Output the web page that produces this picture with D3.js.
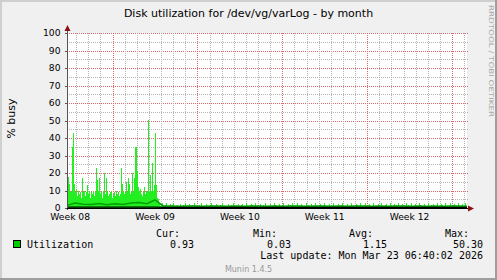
<!DOCTYPE html>
<html><head><meta charset="utf-8">
<script src="https://cdn.jsdelivr.net/npm/d3@7"></script>
<style>body{margin:0;background:#f0f0f0}svg{display:block}</style>
</head><body><svg id="c" width="497" height="280"></svg>
<script>
const titleText = "Disk utilization for /dev/vg/varLog - by month";
const yLabelText = "% busy";
const yTickValues = [0,10,20,30,40,50,60,70,80,90,100];
const weekLabels = ["Week 08","Week 09","Week 10","Week 11","Week 12"];
const weekStarts = ["2026-02-16","2026-02-23","2026-03-02","2026-03-09","2026-03-16"];
const endTime = "2026-03-24T05:42:00Z";
const spanDays = 33;
// per-pixel-column maximum % busy, first part (dense activity)
const maxDense = [6,18,14,10,9,35,43,14,9,11,7,10,8,9,6,17,9,10,7,9,
  13,8,10,6,9,8,10,7,9,23,16,10,17,8,9,6,10,20,8,17,
  9,7,8,9,10,6,8,9,7,10,8,9,7,8,23,14,9,8,10,15,
  9,17,14,8,10,20,9,17,35,35,21,12,10,11,8,7,9,12,8,10,
  9,50.3,9,19,10,26,10,13,43,13,6,5];
// per-pixel-column maximum % busy, quiet part
const maxTail = [2.1,1.4,1.2,2.6,1.3,1.1,1.5,2.9,1.2,1.4,1.3,2.2,1.1,1.6,2.7,1.2,1.3,1.1,1.8,1.4,
  1.2,2.4,1.3,1.1,1.5,1.2,3.0,1.4,1.2,1.3,2.5,1.1,1.2,1.6,1.3,2.8,1.2,1.1,1.4,1.3,
  1.5,1.2,2.6,1.3,1.1,1.2,1.4,2.2,1.3,1.2,1.1,1.5,2.9,1.2,1.3,1.4,1.1,2.3,1.2,1.3,
  1.1,1.6,1.2,2.7,1.3,1.2,1.4,1.1,1.3,2.5,1.2,1.1,1.5,1.3,2.8,1.2,1.4,1.1,1.2,2.1,
  1.3,1.2,1.5,2.4,1.1,1.3,1.2,2.9,1.4,1.2,1.1,1.3,2.2,1.5,1.2,1.1,2.6,1.3,1.2,1.4,
  1.1,2.3,1.2,1.3,1.6,1.2,2.8,1.1,1.3,1.2,1.4,2.5,1.2,1.1,1.3,2.7,1.5,1.2,1.1,1.3,
  2.4,1.2,1.3,1.1,2.9,1.4,1.2,1.3,1.1,2.2,1.2,1.5,1.3,2.6,1.1,1.2,1.4,1.3,2.8,1.2,
  1.1,1.3,2.3,1.2,1.4,1.1,1.2,2.7,1.3,1.5,1.2,1.1,2.5,1.3,1.2,1.4,2.9,1.1,1.2,1.3,
  1.6,2.2,1.2,1.1,1.3,2.6,1.4,1.2,1.1,1.3,2.4,1.2,1.5,1.1,2.8,1.3,1.2,1.4,1.1,2.3,
  1.2,1.3,1.5,2.7,1.1,1.2,1.3,1.4,2.5,1.2,1.1,1.3,2.9,1.2,1.4,1.1,1.3,2.2,1.5,1.2,
  1.1,2.6,1.3,1.2,1.4,1.1,2.8,1.2,1.3,1.5,2.4,1.1,1.2,1.3,2.7,1.4,1.2,1.1,1.3,2.3,
  1.2,1.4,2.9,1.1,1.3,1.2,1.5,2.5,1.2,1.1,1.3,2.6,1.4,1.2,1.1,2.2,1.3,1.5,1.2,2.8,
  1.1,1.3,1.2,2.4,1.4,1.1,1.2,2.7,1.3,1.5,1.2,1.1,2.9,1.3,1.2,1.4,2.3,1.1,1.2,1.3,
  2.6,1.5,1.2,1.1,1.3,2.5,1.2,1.4,1.1,2.8,1.3,1.2,1.5,1.1,2.2,1.3,1.2,1.4,2.7,1.1,
  1.2,1.3,2.4,1.5,1.1,1.2,2.9,1.3,1.4,1.2,1.1,2.6,1.3,1.2,1.5,2.3,1.1,1.3,1.2,2.8,
  1.4,1.2,1.1,2.5,1.3,1.2,2.7,1.0];
// average % busy, sampled every 8 columns
const avgValues = [1.5,2.8,2.2,2.0,2.6,1.8,2.4,2.0,2.8,3.2,2.5,4.6,1.2,
  1.1,1.0,1.2,1.1,1.0,1.1,1.2,1.0,1.1,1.0,1.2,1.1,1.0,1.1,1.0,1.2,1.1,1.0,1.1,1.2,
  1.0,1.1,1.0,1.1,1.2,1.0,1.1,1.0,1.1,1.2,1.0,1.1,1.0,1.1,1.0,1.2,1.1,1.0];
// minimum % busy, sampled every 8 columns
const minValues = [0.5,0.5,0.5,0.5,0.5,0.5,0.5,0.5,0.5,0.5,0.5,0.5,0.4,
  0.4,0.4,0.4,0.4,0.4,0.4,0.4,0.4,0.4,0.4,0.4,0.4,0.4,0.4,0.4,0.4,0.4,0.4,0.4,0.4,
  0.4,0.4,0.4,0.4,0.4,0.4,0.4,0.4,0.4,0.4,0.4,0.4,0.4,0.4,0.4,0.4,0.4,0.4];
const seriesName = "Utilization";
const legendHeaders = ["Cur:","Min:","Avg:","Max:"];
const legendValues = ["0.93","0.03","1.15","50.30"];
const lastUpdate = "Last update: Mon Mar 23 06:40:02 2026";
const footer = "Munin 1.4.5";
const watermark = "RRDTOOL / TOBI OETIKER";

const svg = d3.select("#c");
const W = 497, H = 280;
const L = 67, R = 467, T = 33, B = 208;
const end = new Date(endTime);
const start = d3.utcDay.offset(end, -spanDays);
const x = d3.scaleUtc().domain([start, end]).range([L, R]);
const y = d3.scaleLinear().domain([0, 100]).range([B, T]);
const px = v => Math.round(v) + 0.5;

// frame
svg.append("rect").attr("width", W).attr("height", H).attr("fill", "#f0f0f0");
svg.append("path").attr("d", `M0,${H}V0H${W}`).attr("stroke", "#cfcfcf").attr("stroke-width", 4).attr("fill", "none");
svg.append("path").attr("d", `M0,${H}H${W}V0`).attr("stroke", "#9e9e9e").attr("stroke-width", 4).attr("fill", "none");

// plot background
svg.append("rect").attr("x", L).attr("y", T).attr("width", R - L).attr("height", B - T).attr("fill", "#fff");

const grid = svg.append("g").attr("shape-rendering", "crispEdges").attr("fill", "none");
// horizontal grid
d3.range(5, 101, 5).forEach(v => {
  const major = v % 10 === 0;
  grid.append("line").attr("x1", L).attr("x2", R + 1).attr("y1", px(y(v))).attr("y2", px(y(v)))
    .attr("stroke", major ? "#e06868" : "#b4b4b4").attr("stroke-dasharray", "1,1");
});
// vertical grid: days minor, week starts major
const weekStartDates = weekStarts.map(s => new Date(s + "T00:00:00Z"));
d3.utcDay.range(d3.utcDay.ceil(start), end).forEach(d => {
  const major = d.getUTCDay() === 1;
  grid.append("line").attr("x1", px(x(d))).attr("x2", px(x(d))).attr("y1", T).attr("y2", B)
    .attr("stroke", major ? "#e06868" : "#b4b4b4").attr("stroke-dasharray", "1,1");
});

// data
const step = (end - start) / 400;
const maxValues = maxDense.concat(maxTail);
const colDate = i => new Date(+start + i * step);
svg.append("g").attr("shape-rendering", "crispEdges").selectAll("rect").data(maxValues).join("rect")
  .attr("x", (d, i) => Math.round(x(colDate(i))))
  .attr("width", 1)
  .attr("y", d => y(d))
  .attr("height", d => B - y(d))
  .attr("fill", "#22ee22");

const sampleDate = i => new Date(+start + i * 8 * step);
svg.append("path").datum(avgValues)
  .attr("d", d3.line().x((d, i) => x(sampleDate(i))).y(d => y(d)))
  .attr("fill", "none").attr("stroke", "#00a000").attr("stroke-width", 1.5);
svg.append("path").datum(minValues)
  .attr("d", d3.line().x((d, i) => x(sampleDate(i))).y(d => y(d)))
  .attr("fill", "none").attr("stroke", "#000").attr("stroke-width", 1.2);

// axes
const ax = svg.append("g").attr("shape-rendering", "crispEdges");
ax.append("line").attr("x1", L + 0.5).attr("x2", L + 0.5).attr("y1", B + 2).attr("y2", T - 3).attr("stroke", "#555");
ax.append("line").attr("x1", L - 2).attr("x2", R + 2).attr("y1", B + 0.5).attr("y2", B + 0.5).attr("stroke", "#000");
yTickValues.forEach(v => {
  ax.append("line").attr("x1", L - 2).attr("x2", L).attr("y1", px(y(v))).attr("y2", px(y(v))).attr("stroke", "#555");
});
svg.append("path").attr("d", `M${L - 2.5},${T - 2}L${L + 3.5},${T - 2}L${L + 0.5},${T - 8}Z`).attr("fill", "#8b1010");
svg.append("path").attr("d", `M${R + 1},${B - 2.5}L${R + 1},${B + 3.5}L${R + 7},${B + 0.5}Z`).attr("fill", "#8b1010");

const sans = "'DejaVu Sans', sans-serif";
const mono = "'DejaVu Sans Mono', monospace";
// y tick labels
svg.append("g").selectAll("text").data(yTickValues).join("text")
  .attr("x", L - 6.5).attr("y", d => y(d) + 3.4)
  .attr("text-anchor", "end").attr("font-family", sans).attr("font-size", 9.2).attr("fill", "#000")
  .text(d => d);
// x labels (centered in each week)
svg.append("g").selectAll("text").data(weekLabels).join("text")
  .attr("x", (d, i) => x(d3.utcHour.offset(weekStartDates[i], 84)))
  .attr("y", 220).attr("text-anchor", "middle").attr("font-family", sans).attr("font-size", 9.2).attr("fill", "#000")
  .text(d => d);

// title
svg.append("text").attr("x", 248.5).attr("y", 17).attr("text-anchor", "middle")
  .attr("font-family", sans).attr("font-size", 11).attr("fill", "#000").text(titleText);
// y label
svg.append("text").attr("transform", "translate(14.5,118.5) rotate(-90)").attr("text-anchor", "middle")
  .attr("font-family", sans).attr("font-size", 11).attr("fill", "#000").text(yLabelText);
// watermark
svg.append("text").attr("transform", "translate(488.5,61) rotate(90)").attr("text-anchor", "middle")
  .attr("font-family", sans).attr("font-size", 6.5).attr("fill", "#a8a8a8")
  .attr("textLength", 112).attr("lengthAdjust", "spacingAndGlyphs").text(watermark);

// legend
svg.append("rect").attr("x", 13.5).attr("y", 240.5).attr("width", 7).attr("height", 7)
  .attr("fill", "#00cc00").attr("stroke", "#000");
svg.append("text").attr("x", 27).attr("y", 248).attr("font-family", mono).attr("font-size", 10).text(seriesName);
const headerEnds = [180, 277, 373, 469];
const valueEnds = [194, 291, 387, 483];
legendHeaders.forEach((h, i) => {
  svg.append("text").attr("x", headerEnds[i]).attr("y", 237).attr("text-anchor", "end")
    .attr("font-family", mono).attr("font-size", 10).text(h);
  svg.append("text").attr("x", valueEnds[i]).attr("y", 248).attr("text-anchor", "end")
    .attr("font-family", mono).attr("font-size", 10).text(legendValues[i]);
});
svg.append("text").attr("x", 483).attr("y", 259).attr("text-anchor", "end")
  .attr("font-family", mono).attr("font-size", 10).text(lastUpdate);
svg.append("text").attr("x", 248.5).attr("y", 272).attr("text-anchor", "middle")
  .attr("font-family", sans).attr("font-size", 8).attr("fill", "#999").text(footer);
</script></body></html>
